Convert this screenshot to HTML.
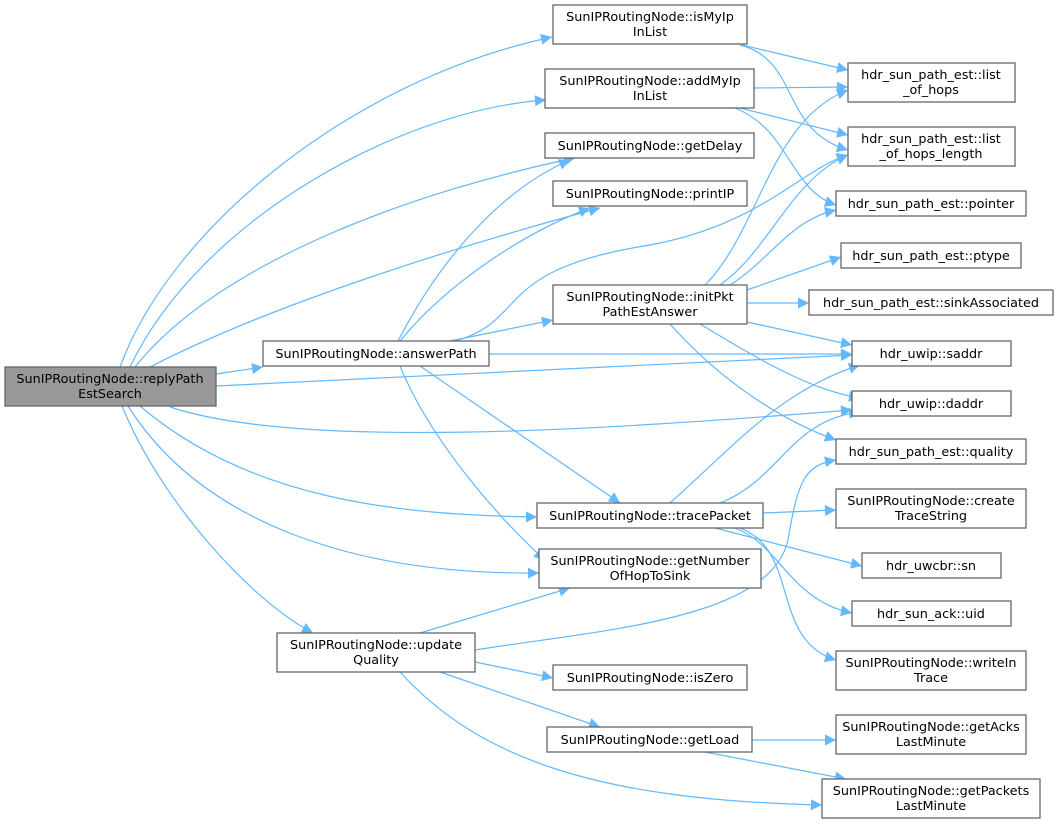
<!DOCTYPE html>
<html><head><meta charset="utf-8"><style>
html,body{margin:0;padding:0;background:#fff;}
svg{display:block;}
text{font-family:"DejaVu Sans","Liberation Sans",sans-serif;font-size:12.8px;fill:#000;}
.n{fill:#fff;stroke:#666;stroke-width:1.3;}
.e{fill:none;stroke:#63b8ff;stroke-width:1.2;marker-end:url(#a);}
</style></head><body>
<svg width="1059" height="828" viewBox="0 0 1059 828" xmlns="http://www.w3.org/2000/svg">
<defs><marker id="a" viewBox="0 0 10 10" refX="10" refY="5" markerWidth="13" markerHeight="11" markerUnits="userSpaceOnUse" orient="auto"><path d="M0,0 L10,5 L0,10 z" fill="#63b8ff"/></marker></defs>
<path class="e" d="M120,367 C170,230 350,80 552,37"/>
<path class="e" d="M130,367 C200,220 400,110 546,100"/>
<path class="e" d="M135,367 C220,260 420,190 575,158"/>
<path class="e" d="M150,367 C280,300 480,240 600,208"/>
<path class="e" d="M216,374 L263,367"/>
<path class="e" d="M216,386 L852,355"/>
<path class="e" d="M170,407 C300,450 600,430 852,410"/>
<path class="e" d="M140,406 C250,500 400,515 537,517"/>
<path class="e" d="M128,406 C200,520 350,575 539,573"/>
<path class="e" d="M122,406 C160,500 250,600 313,633"/>
<path class="e" d="M398,341 C440,260 500,190 570,160"/>
<path class="e" d="M400,341 C450,280 530,230 590,208"/>
<path class="e" d="M450,341 L553,320"/>
<path class="e" d="M455,341 C530,320 490,270 650,245 C760,225 800,170 848,155"/>
<path class="e" d="M489,354 L852,354"/>
<path class="e" d="M420,366 L620,503"/>
<path class="e" d="M400,366 C430,440 500,520 545,560"/>
<path class="e" d="M705,285 C760,230 770,120 848,90"/>
<path class="e" d="M720,285 C770,250 790,180 848,155"/>
<path class="e" d="M730,285 C770,260 790,220 836,210"/>
<path class="e" d="M747,290 L841,257"/>
<path class="e" d="M747,303 L809,303"/>
<path class="e" d="M747,322 L852,345"/>
<path class="e" d="M700,324 C760,360 810,390 860,398"/>
<path class="e" d="M670,324 C720,380 780,420 836,440"/>
<path class="e" d="M670,503 C730,450 780,390 860,365"/>
<path class="e" d="M720,503 C780,480 790,420 860,412"/>
<path class="e" d="M763,513 L836,510"/>
<path class="e" d="M715,528 L862,566"/>
<path class="e" d="M735,528 C780,545 790,600 852,613"/>
<path class="e" d="M740,528 C800,550 770,640 836,660"/>
<path class="e" d="M420,633 L570,588"/>
<path class="e" d="M475,650 C600,630 770,620 788,540 C798,480 805,465 836,460"/>
<path class="e" d="M475,662 L553,678"/>
<path class="e" d="M440,672 L600,727"/>
<path class="e" d="M400,672 C480,760 600,800 822,805"/>
<path class="e" d="M752,740 L836,740"/>
<path class="e" d="M705,752 L846,779"/>
<path class="e" d="M742,45 L848,70"/>
<path class="e" d="M740,45 C800,60 780,130 848,150"/>
<path class="e" d="M754,88 L848,87"/>
<path class="e" d="M740,108 L848,135"/>
<path class="e" d="M735,108 C790,130 790,190 836,205"/>
<rect x="5" y="367" width="211" height="39" fill="#999" stroke="#666" stroke-width="1.3"/>
<text x="110" y="383" text-anchor="middle">SunIPRoutingNode::replyPath</text><text x="110" y="398" text-anchor="middle">EstSearch</text>
<rect class="n" x="263" y="341" width="226" height="25"/><text x="376" y="358" text-anchor="middle">SunIPRoutingNode::answerPath</text>
<rect class="n" x="277" y="633" width="198" height="39"/><text x="376" y="649" text-anchor="middle">SunIPRoutingNode::update</text><text x="376" y="664" text-anchor="middle">Quality</text>
<rect class="n" x="553" y="5" width="194" height="39"/><text x="650" y="21" text-anchor="middle">SunIPRoutingNode::isMyIp</text><text x="650" y="36" text-anchor="middle">InList</text>
<rect class="n" x="545" y="69" width="209" height="39"/><text x="650" y="85" text-anchor="middle">SunIPRoutingNode::addMyIp</text><text x="650" y="100" text-anchor="middle">InList</text>
<rect class="n" x="545" y="133" width="209" height="25"/><text x="650" y="150" text-anchor="middle">SunIPRoutingNode::getDelay</text>
<rect class="n" x="553" y="181" width="194" height="25"/><text x="650" y="198" text-anchor="middle">SunIPRoutingNode::printIP</text>
<rect class="n" x="553" y="285" width="194" height="39"/><text x="650" y="301" text-anchor="middle">SunIPRoutingNode::initPkt</text><text x="650" y="316" text-anchor="middle">PathEstAnswer</text>
<rect class="n" x="537" y="503" width="226" height="25"/><text x="650" y="520" text-anchor="middle">SunIPRoutingNode::tracePacket</text>
<rect class="n" x="539" y="549" width="222" height="39"/><text x="650" y="565" text-anchor="middle">SunIPRoutingNode::getNumber</text><text x="650" y="580" text-anchor="middle">OfHopToSink</text>
<rect class="n" x="553" y="665" width="194" height="25"/><text x="650" y="682" text-anchor="middle">SunIPRoutingNode::isZero</text>
<rect class="n" x="547" y="727" width="205" height="25"/><text x="650" y="744" text-anchor="middle">SunIPRoutingNode::getLoad</text>
<rect class="n" x="848" y="63" width="167" height="39"/><text x="931" y="79" text-anchor="middle">hdr_sun_path_est::list</text><text x="931" y="94" text-anchor="middle">_of_hops</text>
<rect class="n" x="848" y="127" width="167" height="39"/><text x="931" y="143" text-anchor="middle">hdr_sun_path_est::list</text><text x="931" y="158" text-anchor="middle">_of_hops_length</text>
<rect class="n" x="836" y="191" width="190" height="25"/><text x="931" y="208" text-anchor="middle">hdr_sun_path_est::pointer</text>
<rect class="n" x="841" y="243" width="180" height="25"/><text x="931" y="260" text-anchor="middle">hdr_sun_path_est::ptype</text>
<rect class="n" x="809" y="290" width="244" height="25"/><text x="931" y="307" text-anchor="middle">hdr_sun_path_est::sinkAssociated</text>
<rect class="n" x="852" y="341" width="159" height="25"/><text x="931" y="358" text-anchor="middle">hdr_uwip::saddr</text>
<rect class="n" x="852" y="391" width="159" height="25"/><text x="931" y="408" text-anchor="middle">hdr_uwip::daddr</text>
<rect class="n" x="836" y="439" width="190" height="25"/><text x="931" y="456" text-anchor="middle">hdr_sun_path_est::quality</text>
<rect class="n" x="836" y="489" width="190" height="39"/><text x="931" y="505" text-anchor="middle">SunIPRoutingNode::create</text><text x="931" y="520" text-anchor="middle">TraceString</text>
<rect class="n" x="862" y="553" width="139" height="25"/><text x="931" y="570" text-anchor="middle">hdr_uwcbr::sn</text>
<rect class="n" x="852" y="601" width="159" height="25"/><text x="931" y="618" text-anchor="middle">hdr_sun_ack::uid</text>
<rect class="n" x="836" y="651" width="190" height="39"/><text x="931" y="667" text-anchor="middle">SunIPRoutingNode::writeIn</text><text x="931" y="682" text-anchor="middle">Trace</text>
<rect class="n" x="836" y="715" width="190" height="39"/><text x="931" y="731" text-anchor="middle">SunIPRoutingNode::getAcks</text><text x="931" y="746" text-anchor="middle">LastMinute</text>
<rect class="n" x="822" y="779" width="218" height="39"/><text x="931" y="795" text-anchor="middle">SunIPRoutingNode::getPackets</text><text x="931" y="810" text-anchor="middle">LastMinute</text>
</svg>
</body></html>
